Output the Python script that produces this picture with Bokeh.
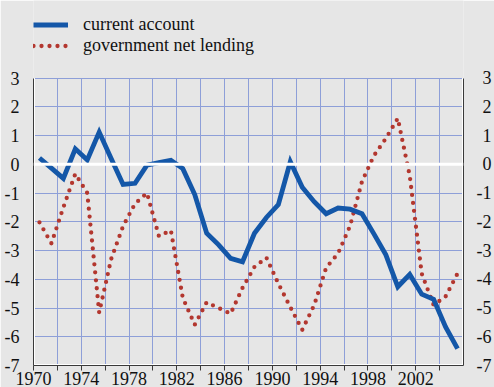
from bokeh.plotting import figure
from bokeh.models import (Range1d, FixedTicker, Span, Legend, LegendItem, LinearAxis)
from bokeh.embed import file_html
from bokeh.resources import INLINE

# Annual balances, % of GDP
years = list(range(1970, 2006))
current_account = [0.22, -0.13, -0.49, 0.54, 0.15, 1.12, 0.20, -0.70, -0.66, -0.03,
                   0.06, 0.14, -0.15, -1.05, -2.40, -2.80, -3.27, -3.39, -2.40, -1.85,
                   -1.40, 0.09, -0.80, -1.30, -1.72, -1.52, -1.56, -1.72, -2.42, -3.15,
                   -4.26, -3.83, -4.52, -4.70, -5.66, -6.41]
gov_net_lending = [-2.02, -2.75, -1.50, -0.33, -1.00, -5.16, -3.30, -2.15, -1.37, -1.00,
                   -2.50, -2.30, -4.65, -5.58, -4.80, -5.00, -5.20, -4.30, -3.57, -3.25,
                   -4.15, -4.97, -5.76, -4.90, -3.60, -3.10, -2.15, -0.60, 0.30, 0.90,
                   1.60, -0.40, -3.80, -4.90, -4.60, -3.80]

x_start, x_end = 1970, 2006
y_min, y_max = -7, 3
x_label_years = list(range(1970, 2003, 4))
x_minor_years = list(range(1972, 2005, 4))
x_grid_years = list(range(1970, 2006, 2))
y_ticks = list(range(y_min, y_max + 1))
y_tick_labels = [str(v) for v in y_ticks]

BG = "#e6e6e6"
BLUE = "#1457a8"
RED = "#b3372f"
GRID = "#8e9fd8"
INK = "#111111"
AXIS = "#3a3a3a"
FONT = "Liberation Serif"

# each annual value sits in the middle of its year
x_mid = [y + 0.5 for y in years]

# the frame reaches the top of the canvas so the key can sit above the grid
p = figure(width=494, height=387, output_backend="svg", toolbar_location=None,
           x_range=Range1d(x_start, x_end), y_range=Range1d(y_min, 5.7),
           min_border_left=33, min_border_right=23, min_border_top=0,
           min_border_bottom=0, background_fill_color=BG, border_fill_color=BG,
           outline_line_color=None)

# grid, limited to the value band
p.xgrid.ticker = FixedTicker(ticks=x_grid_years)
p.xgrid.cross_bounds = (y_min, y_max)
p.ygrid.ticker = FixedTicker(ticks=y_ticks)
for g in (p.xgrid, p.ygrid):
    g.grid_line_color = GRID
    g.grid_line_width = 1

# white frame edges and zero line
p.segment(x0=[x_start, x_end, x_start], y0=[y_min, y_min, y_min],
          x1=[x_start, x_end, x_end], y1=[y_max, y_max, y_min],
          line_color="white", line_width=3)
p.add_layout(Span(location=0, dimension="width", line_color="white", line_width=3))

# bottom axis: labelled every four years, plain ticks in between
xa = p.xaxis[0]
xa.ticker = FixedTicker(ticks=x_label_years, minor_ticks=x_minor_years)
xa.major_label_overrides = {y: str(y) for y in x_label_years}
xa.major_label_text_font = FONT
xa.major_label_text_font_size = "18px"
xa.major_label_text_color = INK
xa.major_label_standoff = 1
xa.major_tick_out = 5
xa.major_tick_in = 0
xa.minor_tick_out = 5
xa.minor_tick_in = 0
xa.axis_line_color = AXIS
xa.major_tick_line_color = AXIS
xa.minor_tick_line_color = AXIS

# left and right value axes
ya = p.yaxis[0]
ra = LinearAxis()
p.add_layout(ra, "right")
for ax in (ya, ra):
    ax.ticker = FixedTicker(ticks=y_ticks)
    ax.bounds = (y_min, y_max)
    ax.major_tick_line_color = None
    ax.minor_tick_line_color = None
    ax.axis_line_color = AXIS
    ax.major_label_text_font = FONT
    ax.major_label_text_font_size = "18px"
    ax.major_label_text_color = INK
ya.major_label_standoff = 8
ya.major_label_overrides = {v: s for v, s in zip(y_ticks, y_tick_labels)}
ra.major_label_standoff = 7
ra.major_label_overrides = {v: (s if v < 0 else "\u2004" + s) for v, s in zip(y_ticks, y_tick_labels)}

# series
r_gov = p.line(x_mid, gov_net_lending, line_color=RED, line_width=4.3,
               line_dash="0 8", line_cap="round")
r_ca = p.line(x_mid, current_account, line_color=BLUE, line_width=4.8,
              line_join="miter")

legend = Legend(items=[LegendItem(label="current account", renderers=[r_ca]),
                       LegendItem(label="government net lending", renderers=[r_gov])],
                location=(0, 309), orientation="vertical",
                padding=0, margin=0, spacing=0,
                glyph_width=35, glyph_height=21, label_height=21, label_standoff=15,
                label_text_font=FONT, label_text_font_size="18px", label_text_color=INK,
                border_line_color=None, background_fill_alpha=0)
p.add_layout(legend)

open("out.html", "w").write(file_html(p, INLINE))
